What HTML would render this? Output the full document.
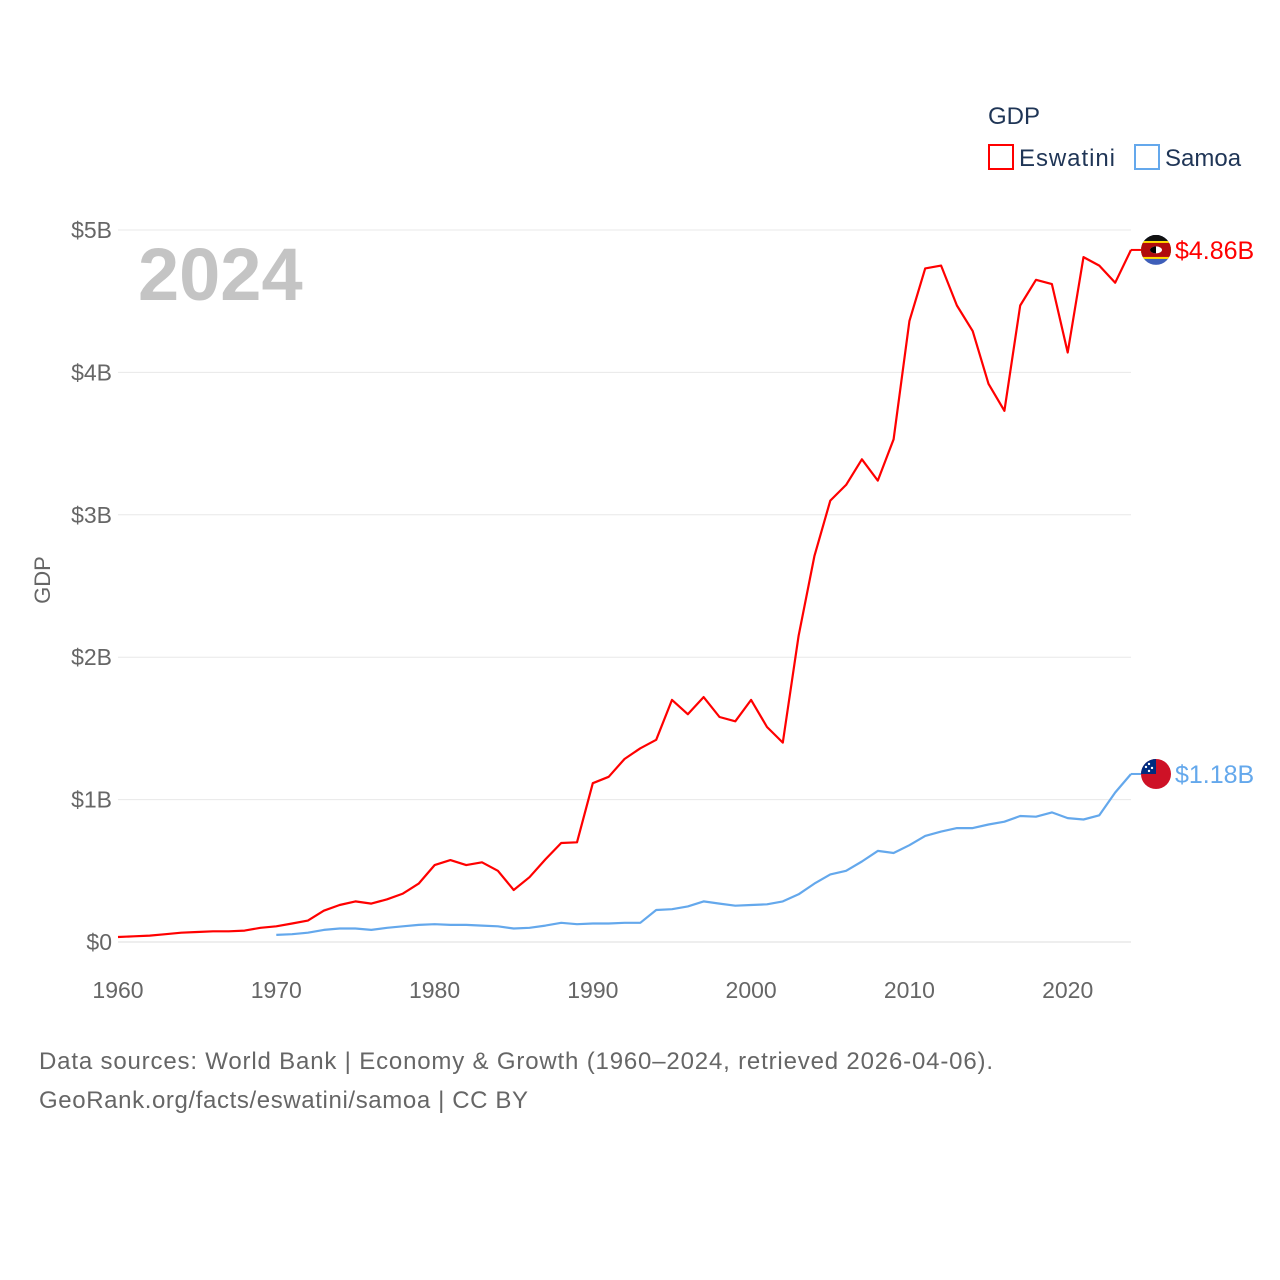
<!DOCTYPE html>
<html><head><meta charset="utf-8">
<style>
body{margin:0;background:#fff;font-family:"Liberation Sans",sans-serif;}
#wrap{position:relative;width:1280px;height:1280px;overflow:hidden;}
</style></head>
<body>
<div id="wrap">
<svg id="chart" width="1280" height="1280"></svg>
</div>
<script>
const years = Array.from({length:65},(_,i)=>1960+i);
const eswatini = [0.035,0.04,0.045,0.055,0.065,0.07,0.075,0.075,0.08,0.1,0.11,0.13,0.15,0.22,0.26,0.285,0.27,0.30,0.34,0.41,0.54,0.575,0.54,0.56,0.50,0.365,0.455,0.58,0.695,0.70,1.115,1.16,1.285,1.36,1.42,1.70,1.60,1.72,1.58,1.55,1.70,1.51,1.40,2.15,2.71,3.10,3.21,3.39,3.24,3.53,4.36,4.73,4.75,4.47,4.29,3.92,3.73,4.47,4.65,4.62,4.14,4.81,4.75,4.63,4.86];
const samoaYears = Array.from({length:55},(_,i)=>1970+i);
const samoa = [0.05,0.055,0.065,0.085,0.095,0.095,0.085,0.10,0.11,0.12,0.125,0.12,0.12,0.115,0.11,0.095,0.10,0.115,0.135,0.125,0.13,0.13,0.135,0.135,0.225,0.23,0.25,0.285,0.27,0.255,0.26,0.265,0.285,0.335,0.41,0.475,0.50,0.565,0.64,0.625,0.68,0.745,0.775,0.80,0.80,0.825,0.845,0.885,0.88,0.91,0.87,0.86,0.89,1.05,1.18];
const yTicks = [0,1,2,3,4,5];
const yTickLabels = ["$0","$1B","$2B","$3B","$4B","$5B"];
const xTicks = [1960,1970,1980,1990,2000,2010,2020];

const NS="http://www.w3.org/2000/svg";
const svg=document.getElementById('chart');
const X0=118,X1=1131,Y0=942,Y1=230;
function xs(y){return X0+(y-1960)/(2024-1960)*(X1-X0);}
function ys(v){return Y0-v/5*(Y0-Y1);}
function mk(tag,attrs,text){const e=document.createElementNS(NS,tag);for(const k in attrs)e.setAttribute(k,attrs[k]);if(text!==undefined)e.textContent=text;svg.appendChild(e);return e;}

yTicks.forEach((t,i)=>{
  const g=mk('line',{x1:X0,x2:X1,y1:ys(t),y2:ys(t),stroke:t===0?'#ddd':'#e8e8e8','stroke-width':1});
  
  
  const l=mk('text',{x:112,y:ys(t)+8,'text-anchor':'end','font-size':23,fill:'#666'},yTickLabels[i]);
  
  
});
xTicks.forEach(t=>{
  const l=mk('text',{x:xs(t),y:998,'text-anchor':'middle','font-size':23,fill:'#666'},String(t));
  
  
});
const yt=mk('text',{x:50,y:580,'text-anchor':'middle','font-size':22,fill:'#666',transform:'rotate(-90 50 580)'},'GDP');



const yr=mk('text',{x:138,y:300,'font-size':74,'font-weight':'bold',fill:'#c4c4c4'},'2024');



function line(xsArr,vals,color,name){
  const d=vals.map((v,i)=>(i?'L':'M')+xs(xsArr[i]).toFixed(1)+','+ys(v).toFixed(1)).join('');
  const p=mk('path',{d:d,fill:'none',stroke:color,'stroke-width':2.2,'stroke-linejoin':'round'});
  
  
}
line(years,eswatini,'#ff0000','eswatini-line');
line(samoaYears,samoa,'#64a8ec','samoa-line');

function endLabel(v,color,text,name,flag){
  const y=ys(v);
  mk('line',{x1:X1,x2:1142,y1:y,y2:y,stroke:color,'stroke-width':2});
  const g=document.createElementNS(NS,'g');g.innerHTML=flag;svg.appendChild(g);
  g.setAttribute('transform','translate(1156,'+y+')');
  
  
  const t=mk('text',{x:1175,y:y+9,'font-size':25,fill:color},text);
  
  
}
const swz='<clipPath id="c1"><circle r="15"/></clipPath><g clip-path="url(#c1)"><rect x="-15" y="-15" width="30" height="30" fill="#3e5eb9"/><rect x="-15" y="-9" width="30" height="18" fill="#ffd900"/><rect x="-15" y="-7" width="30" height="14" fill="#b10c0c"/><rect x="-15" y="-15" width="30" height="6" fill="#111"/><ellipse rx="6" ry="3.5" fill="#fff"/><path d="M0,-3.5 A6,3.5 0 0 0 0,3.5 Z" fill="#000"/></g>';
const wsm='<clipPath id="c2"><circle r="15"/></clipPath><g clip-path="url(#c2)"><rect x="-15" y="-15" width="30" height="30" fill="#ce1126"/><rect x="-15" y="-15" width="15" height="15" fill="#002b7f"/><circle cx="-7" cy="-10" r="1.2" fill="#fff"/><circle cx="-10" cy="-7" r="1.2" fill="#fff"/><circle cx="-4" cy="-6" r="1.2" fill="#fff"/><circle cx="-7" cy="-3" r="1.2" fill="#fff"/></g>';
endLabel(eswatini[eswatini.length-1],'#ff0000','$4.86B','eswatini',swz);
endLabel(samoa[samoa.length-1],'#64a8ec','$1.18B','samoa',wsm);

const lt=mk('text',{x:988,y:124,'font-size':24,fill:'#1f3556'},'GDP');


const r1=mk('rect',{x:989,y:145,width:24,height:24,fill:'none',stroke:'#ff0000','stroke-width':2});


const t1=mk('text',{x:1019,y:166,'font-size':24,fill:'#1f3556',textLength:96},'Eswatini');


const r2=mk('rect',{x:1135,y:145,width:24,height:24,fill:'none',stroke:'#64a8ec','stroke-width':2});


const t2=mk('text',{x:1165,y:166,'font-size':24,fill:'#1f3556'},'Samoa');



const s1=mk('text',{x:39,y:1069,'font-size':24,fill:'#666',textLength:954},'Data sources: World Bank | Economy & Growth (1960–2024, retrieved 2026-04-06).');


const s2=mk('text',{x:39,y:1108,'font-size':24,fill:'#666',textLength:489},'GeoRank.org/facts/eswatini/samoa | CC BY');


</script>
</body></html>
